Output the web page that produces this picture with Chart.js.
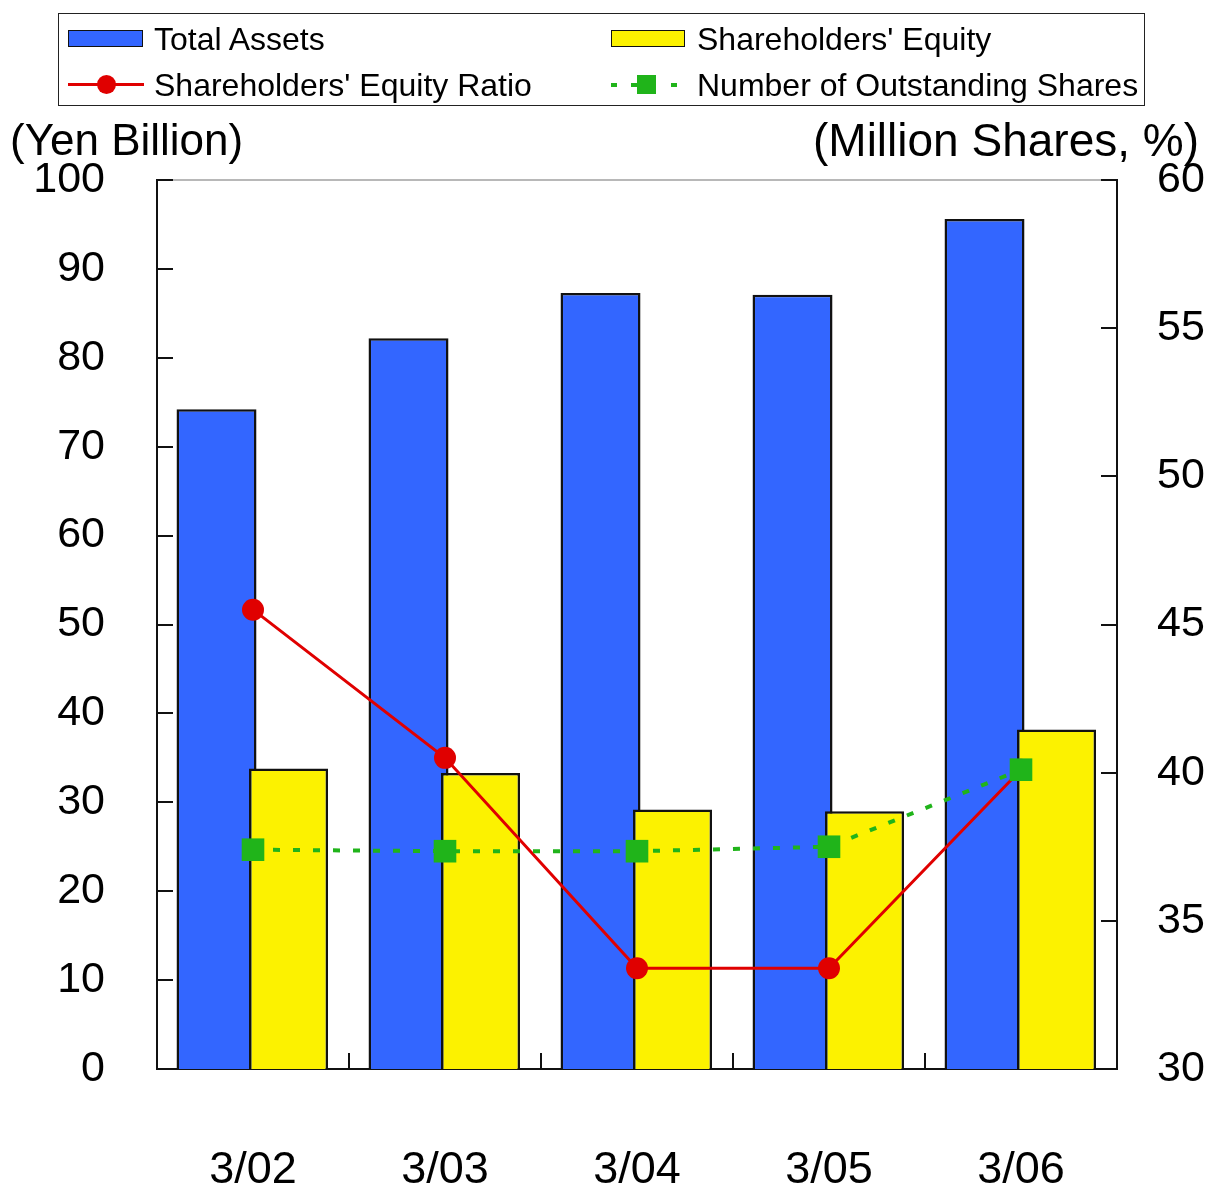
<!DOCTYPE html>
<html>
<head>
<meta charset="utf-8">
<script src="https://cdn.jsdelivr.net/npm/chart.js@4/dist/chart.umd.min.js"></script>
<style>
  body { margin: 0; background: #fff; font-family: 'Liberation Sans', Arial, sans-serif; }
  #wrap { position: relative; width: 1208px; height: 1187px; }
  #chart { position: absolute; left: 0; top: 0; }
  .legend { position: absolute; left: 58px; top: 13px; width: 1085px; height: 91px; border: 1.5px solid #222; }
  .item { position: absolute; font-size: 32px; line-height: 32px; color: #000; white-space: nowrap; }
  .sym { position: absolute; }
  .axis-title { position: absolute; color: #000; white-space: nowrap; }
</style>
</head>
<body>
<div id="wrap">
  <canvas id="chart" width="1208" height="1187"></canvas>
  <div class="legend" id="legend"></div>
  <div class="axis-title" style="left:10px; top:118px; font-size:44px; line-height:44px;">(Yen Billion)</div>
  <div class="axis-title" style="right:9px; top:117px; font-size:46px; line-height:46px;">(Million Shares, %)</div>
</div>
<script>
// values
const categories = ['3/02', '3/03', '3/04', '3/05', '3/06'];
const totalAssets = [74.2, 82.2, 87.3, 87.1, 95.6];
const shareholdersEquity = [33.8, 33.3, 29.2, 29.0, 38.2];
const equityRatio = [45.5, 40.5, 33.4, 33.4, 40.1];
const outstandingShares = [37.4, 37.35, 37.35, 37.5, 40.1];
const leftTicks = [0, 10, 20, 30, 40, 50, 60, 70, 80, 90, 100];
const rightTicks = [30, 35, 40, 45, 50, 55, 60];

const BLUE = '#3366ff';
const YELLOW = '#fcf200';
const RED = '#e00000';
const GREEN = '#20b41a';
const FONT = "'Liberation Sans', Arial, sans-serif";

// the two bars of a year sit a little left / right of the category and overlap
const blueShift = -0.19;
const yellowShift = 0.185;

// legend (two columns, drawn as html)
(function buildLegend() {
    const lg = document.getElementById('legend');
    const add = (html) => lg.insertAdjacentHTML('beforeend', html);
    // row 1
    add(`<div class="sym" style="left:9px;top:16px;width:73px;height:15px;background:${BLUE};border:1.5px solid #111"></div>`);
    add(`<div class="item" style="left:95px;top:9px">Total Assets</div>`);
    add(`<div class="sym" style="left:552px;top:16px;width:72px;height:15px;background:${YELLOW};border:1.5px solid #111"></div>`);
    add(`<div class="item" style="left:638px;top:9px">Shareholders' Equity</div>`);
    // row 2
    add(`<div class="sym" style="left:9px;top:69px;width:76px;height:3px;background:${RED}"></div>`);
    add(`<div class="sym" style="left:38px;top:61px;width:19px;height:19px;border-radius:50%;background:${RED}"></div>`);
    add(`<div class="item" style="left:95px;top:55px">Shareholders' Equity Ratio</div>`);
    add(`<div class="sym" style="left:552px;top:69px;width:6px;height:4px;background:${GREEN}"></div>`);
    add(`<div class="sym" style="left:572px;top:69px;width:6px;height:4px;background:${GREEN}"></div>`);
    add(`<div class="sym" style="left:578px;top:61px;width:19px;height:19px;background:${GREEN}"></div>`);
    add(`<div class="sym" style="left:612px;top:69px;width:6px;height:4px;background:${GREEN}"></div>`);
    add(`<div class="item" style="left:638px;top:55px">Number of Outstanding Shares</div>`);
})();

// inward tick marks, category separators and the grey top frame line
const frameTicks = {
    id: 'frameTicks',
    afterDatasetsDraw(chart) {
        const { ctx, chartArea: a, scales } = chart;
        ctx.save();
        ctx.strokeStyle = '#a0a0a0';
        ctx.lineWidth = 1.5;
        ctx.beginPath();
        ctx.moveTo(a.left, a.top);
        ctx.lineTo(a.right, a.top);
        ctx.stroke();

        ctx.strokeStyle = '#111';
        ctx.lineWidth = 2;
        ctx.beginPath();
        leftTicks.forEach(v => {
            const y = Math.round(scales.y.getPixelForValue(v));
            ctx.moveTo(a.left, y);
            ctx.lineTo(a.left + 16, y);
        });
        rightTicks.forEach(v => {
            const y = Math.round(scales.y1.getPixelForValue(v));
            ctx.moveTo(a.right, y);
            ctx.lineTo(a.right - 16, y);
        });
        for (let i = 0; i < categories.length - 1; i++) {
            const x = Math.round(scales.x.getPixelForValue(i + 0.5));
            ctx.moveTo(x, a.bottom);
            ctx.lineTo(x, a.bottom - 16);
        }
        ctx.stroke();
        ctx.restore();
    }
};

const ctx = document.getElementById('chart').getContext('2d');
new Chart(ctx, {
    data: {
        datasets: [
            {
                type: 'line',
                label: 'Number of Outstanding Shares',
                data: outstandingShares.map((v, i) => ({ x: i, y: v })),
                yAxisID: 'y1',
                borderColor: GREEN,
                borderWidth: 4,
                borderDash: [7, 13],
                pointStyle: 'rect',
                pointRadius: 16,
                pointBorderWidth: 0,
                pointBackgroundColor: GREEN,
                tension: 0,
                order: 0
            },
            {
                type: 'line',
                label: "Shareholders' Equity Ratio",
                data: equityRatio.map((v, i) => ({ x: i, y: v })),
                yAxisID: 'y1',
                borderColor: RED,
                borderWidth: 3,
                pointStyle: 'circle',
                pointRadius: 11,
                pointBorderWidth: 0,
                pointBackgroundColor: RED,
                tension: 0,
                order: 1
            },
            {
                type: 'bar',
                label: "Shareholders' Equity",
                data: shareholdersEquity.map((v, i) => ({ x: i + yellowShift, y: v })),
                yAxisID: 'y',
                backgroundColor: YELLOW,
                borderColor: '#111',
                borderWidth: 2.5,
                grouped: false,
                categoryPercentage: 1,
                barPercentage: 1.5,
                maxBarThickness: 79,
                order: 2
            },
            {
                type: 'bar',
                label: 'Total Assets',
                data: totalAssets.map((v, i) => ({ x: i + blueShift, y: v })),
                yAxisID: 'y',
                backgroundColor: BLUE,
                borderColor: '#111',
                borderWidth: 2.5,
                grouped: false,
                categoryPercentage: 1,
                barPercentage: 1.5,
                maxBarThickness: 80,
                order: 3
            }
        ]
    },
    options: {
        responsive: false,
        animation: false,
        layout: { padding: { top: 180, left: 0, right: 0, bottom: 0 } },
        plugins: {
            legend: { display: false },
            tooltip: { enabled: false }
        },
        scales: {
            x: {
                type: 'linear',
                min: -0.5,
                max: 4.5,
                offset: false,
                afterBuildTicks: (axis) => { axis.ticks = categories.map((c, i) => ({ value: i })); },
                afterFit: (axis) => { axis.height = 118; },
                ticks: {
                    callback: (v) => categories[v],
                    color: '#000',
                    font: { family: FONT, size: 45 },
                    padding: 75,
                    maxRotation: 0,
                    autoSkip: false
                },
                grid: { display: false, drawTicks: false, offset: false },
                border: { display: true, color: '#111', width: 2 }
            },
            y: {
                position: 'left',
                min: 0,
                max: 100,
                afterFit: (axis) => { axis.width = 157; },
                ticks: {
                    stepSize: 10,
                    color: '#000',
                    font: { family: FONT, size: 43 },
                    padding: 52
                },
                grid: { display: false, drawTicks: false },
                border: { display: true, color: '#111', width: 2 }
            },
            y1: {
                position: 'right',
                min: 30,
                max: 60,
                afterFit: (axis) => { axis.width = 91; },
                ticks: {
                    stepSize: 5,
                    color: '#000',
                    font: { family: FONT, size: 43 },
                    padding: 40
                },
                grid: { display: false, drawTicks: false },
                border: { display: true, color: '#111', width: 2 }
            }
        }
    },
    plugins: [frameTicks]
});
</script>
</body>
</html>
